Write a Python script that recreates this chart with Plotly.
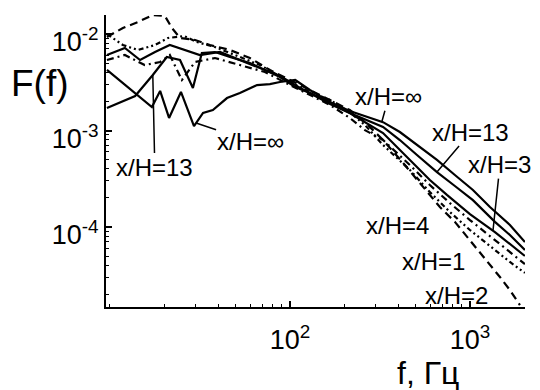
import numpy as np
import plotly.graph_objects as go

# ---------------- data ----------------
f_inf = [9.62, 17.1, 19.0, 21.3, 24.8, 29.3, 32.9, 37.3, 44.7, 52.7, 65.6, 77.4, 88.0, 107, 129,
         167, 215, 261, 329, 408, 508, 656, 825, 1039, 1292, 1668, 2021]
F_inf = [0.00424, 0.00175, 0.00257, 0.00135, 0.00251, 0.00111, 0.00152, 0.00163, 0.00217, 0.00245,
         0.00296, 0.00303, 0.00318, 0.00334, 0.00263, 0.00197, 0.00159, 0.00141, 0.00122, 0.000965,
         0.000708, 0.000495, 0.000346, 0.000242, 0.000161, 0.000105, 0.0000699]

f_13 = [9.62, 13.8, 17.3, 19.0, 20.7, 24.5, 28.9, 32.4, 38.3, 46.4, 59.9, 72.6, 88.0, 107, 129,
        167, 215, 329, 408, 508, 656, 825, 1039, 1377, 1668, 2021]
F_13 = [0.00171, 0.00228, 0.00376, 0.00466, 0.00578, 0.00538, 0.00276, 0.00635, 0.00651, 0.00578,
        0.00501, 0.00424, 0.00358, 0.00282, 0.00245, 0.00188, 0.00152, 0.00109, 0.000797, 0.000557,
        0.000371, 0.000266, 0.000190, 0.000113, 0.0000826, 0.0000578]

f_3 = [9.62, 12.1, 14.7, 17.8, 21.5, 26.1, 31.6, 40.8, 52.7, 68.1, 88.0, 114, 167, 215, 329,
       464, 599, 745, 1000, 1377, 1668, 2021]
F_3 = [0.00606, 0.00716, 0.00538, 0.00651, 0.00769, 0.00683, 0.00606, 0.00651, 0.00538, 0.00444,
       0.00367, 0.00276, 0.00193, 0.00152, 0.000942, 0.000495, 0.000307, 0.000215, 0.000136,
       0.0000887, 0.0000666, 0.0000501]

f_4 = [9.62, 12.1, 15.6, 19.0, 21.5, 25.1, 29.7, 38.3, 52.7, 72.6, 100, 129, 167, 215, 261, 329,
       464, 599, 774, 1000, 1377, 1668, 2021]
F_4 = [0.00538, 0.00606, 0.00477, 0.00513, 0.00606, 0.00334, 0.00513, 0.00564, 0.00477, 0.00404,
       0.00296, 0.00233, 0.00184, 0.00135, 0.00101, 0.000797, 0.000439, 0.000272, 0.000177,
       0.000118, 0.0000733, 0.0000551, 0.0000413]

f_1 = [9.62, 11.8, 14.3, 17.8, 21.0, 25.8, 30.4, 38.3, 49.5, 68.1, 100, 129, 167, 215, 261, 329,
       464, 599, 774, 1000, 1377, 1668, 2021]
F_1 = [0.0100, 0.00769, 0.00683, 0.00769, 0.00909, 0.00953, 0.00826, 0.00733, 0.00606, 0.00477,
       0.00318, 0.00251, 0.00207, 0.00155, 0.00114, 0.000708, 0.000390, 0.000230, 0.000143,
       0.0000931, 0.0000578, 0.0000434, 0.0000334]

f_2 = [9.62, 11.8, 14.3, 17.3, 20.2, 22.1, 24.5, 29.7, 35.9, 46.4, 59.9, 77.4, 100, 129, 167, 215,
       261, 329, 435, 548, 681, 825, 1000, 1259, 1468, 1668, 1896]
F_2 = [0.00931, 0.01154, 0.01331, 0.01574, 0.01536, 0.01154, 0.00909, 0.00867, 0.00769, 0.00683,
       0.00564, 0.00424, 0.00334, 0.00263, 0.00207, 0.00163, 0.00122, 0.000797, 0.000439,
       0.000260, 0.000161, 0.000113, 0.0000733, 0.0000434, 0.0000303, 0.0000222, 0.0000155]

y_tickvals = [1e-2, 1e-3, 1e-4]
y_ticktext = ["10<sup>-2</sup>", "10<sup>-3</sup>", "10<sup>-4</sup>"]
x_tickvals = [1e2, 1e3]
x_ticktext = ["10<sup>2</sup>", "10<sup>3</sup>"]

FONT = "Liberation Sans, Arial, sans-serif"

series = [
    (f_2, F_2, "8px,5px"),
    (f_1, F_1, "5px,3px,2px,3px,2px,3px"),
    (f_4, F_4, "7px,4px,2px,4px"),
    (f_3, F_3, "solid"),
    (f_13, F_13, "solid"),
    (f_inf, F_inf, "solid"),
]

fig = go.Figure()
for fx, Fy, dash in series:
    fig.add_trace(go.Scatter(x=fx, y=Fy, mode="lines",
                             line=dict(color="black", width=2.2, dash=dash),
                             showlegend=False, hoverinfo="skip"))

# page body has an 8px margin: the figure starts at (8, 8) in the window
OFF = 8
W, H = 540 - OFF, 390 - OFF
X0, X1, Y0, Y1 = 106, 525, 15, 307          # plot area in window pixels
ML, MR, MT, MB = X0 - OFF, 540 - X1, Y0 - OFF, 390 - Y1
PW, PH = X1 - X0, Y1 - Y0


def px2paper(px, py):
    return (px - X0) / PW, (Y1 - py) / PH


def on_curve(fx, Fy, f0):
    lf = np.log10(fx)
    lF = np.log10(Fy)
    return np.log10(f0), float(np.interp(np.log10(f0), lf, lF))


LBL = dict(family=FONT, size=24, color="black")

# labels with leader lines: (text, curve, frequency the leader points at, label offset ax, ay px)
leader_labels = [
    ("x/H=\u221e", f_inf, F_inf, 324, 7, -25),
    ("x/H=13", f_13, F_13, 656, 34, -40),
    ("x/H=3", f_3, F_3, 1343, 7, -66),
    ("x/H=13", f_13, F_13, 17.3, 2, 92),
    ("x/H=\u221e", f_inf, F_inf, 30.1, 54, 18),
]
for txt, fx, Fy, f0, ax, ay in leader_labels:
    lx, ly = on_curve(fx, Fy, f0)
    fig.add_annotation(x=lx, y=ly, xref="x", yref="y", text=txt, showarrow=True,
                       arrowhead=0, arrowwidth=1.5, arrowcolor="black",
                       ax=ax, ay=ay, standoff=0, borderpad=0, font=LBL)

# plain labels
labels = [
    ("x/H=4", 397, 225),
    ("x/H=1", 433, 261),
    ("x/H=2", 456, 295),
]
for txt, px, py in labels:
    xp, yp = px2paper(px, py)
    fig.add_annotation(x=xp, y=yp, xref="paper", yref="paper", text=txt,
                       showarrow=False, xanchor="center", yanchor="middle", font=LBL)

# axis titles
xp, yp = px2paper(40, 83)
fig.add_annotation(x=xp, y=yp, xref="paper", yref="paper", text="F(f)", showarrow=False,
                   xanchor="center", yanchor="middle",
                   font=dict(family=FONT, size=37, color="black"))
xp, yp = px2paper(428, 373)
fig.add_annotation(x=xp, y=yp, xref="paper", yref="paper", text="f, \u0413\u0446", showarrow=False,
                   xanchor="center", yanchor="middle",
                   font=dict(family=FONT, size=32, color="black"))

fig.update_xaxes(type="log", range=[0.978, 3.306], showline=True, linecolor="black", linewidth=2,
                 mirror=False, showgrid=False, zeroline=False, automargin=False,
                 tickmode="array", tickvals=x_tickvals, ticktext=x_ticktext,
                 ticks="inside", ticklen=6, tickwidth=1.5, tickcolor="black",
                 ticklabelstandoff=8,
                 tickfont=dict(family=FONT, size=27, color="black"),
                 minor=dict(ticks="inside", ticklen=3, tickwidth=1, tickcolor="black",
                            dtick="D1", showgrid=False))
fig.update_yaxes(type="log", range=[-4.829, -1.803], showline=True, linecolor="black", linewidth=2,
                 mirror=False, showgrid=False, zeroline=False, automargin=False,
                 tickmode="array", tickvals=y_tickvals, ticktext=y_ticktext,
                 ticks="inside", ticklen=6, tickwidth=1.5, tickcolor="black",
                 ticklabelshift=8, ticklabelstandoff=0,
                 tickfont=dict(family=FONT, size=27, color="black"),
                 minor=dict(ticks="inside", ticklen=3, tickwidth=1, tickcolor="black",
                            dtick="D1", showgrid=False))

fig.update_layout(width=W, height=H, margin=dict(l=ML, r=MR, t=MT, b=MB, autoexpand=False),
                  paper_bgcolor="white", plot_bgcolor="white", showlegend=False)

fig.write_html("out.html")
